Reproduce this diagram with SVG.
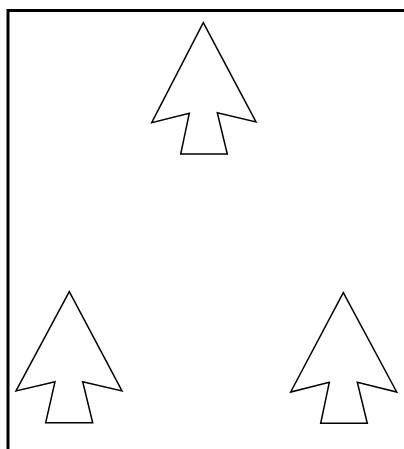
<svg xmlns="http://www.w3.org/2000/svg" width="404" height="449" viewBox="0 0 404 449">
<style>
.arrow{fill:#fff;stroke:#000;stroke-width:1.5;stroke-linejoin:miter}
.border{fill:none;stroke:#000;stroke-width:3}
</style>
<rect width="404" height="449" fill="#fff"/>
<g id="border">
<polyline class="border" points="8,449 8,10.5 404,10.5"/>
</g>
<g id="arrow-top">
<polygon class="arrow" points="203.3,22.7 256,122 217.3,112.7 227.3,154 180.7,154 189.3,113.3 151.7,122.7"/>
</g>
<g id="arrow-bottom-left">
<polygon class="arrow" points="69.3,291.7 122,391 82.7,381.7 92.7,422.7 45.7,422.7 55,381.7 16,391"/>
</g>
<g id="arrow-bottom-right">
<polygon class="arrow" points="343.3,292.7 396.7,392 357.3,382.3 367.3,423.3 320.7,423.3 329.3,382.3 290.7,392"/>
</g>
<g id="connectors"/>
</svg>
